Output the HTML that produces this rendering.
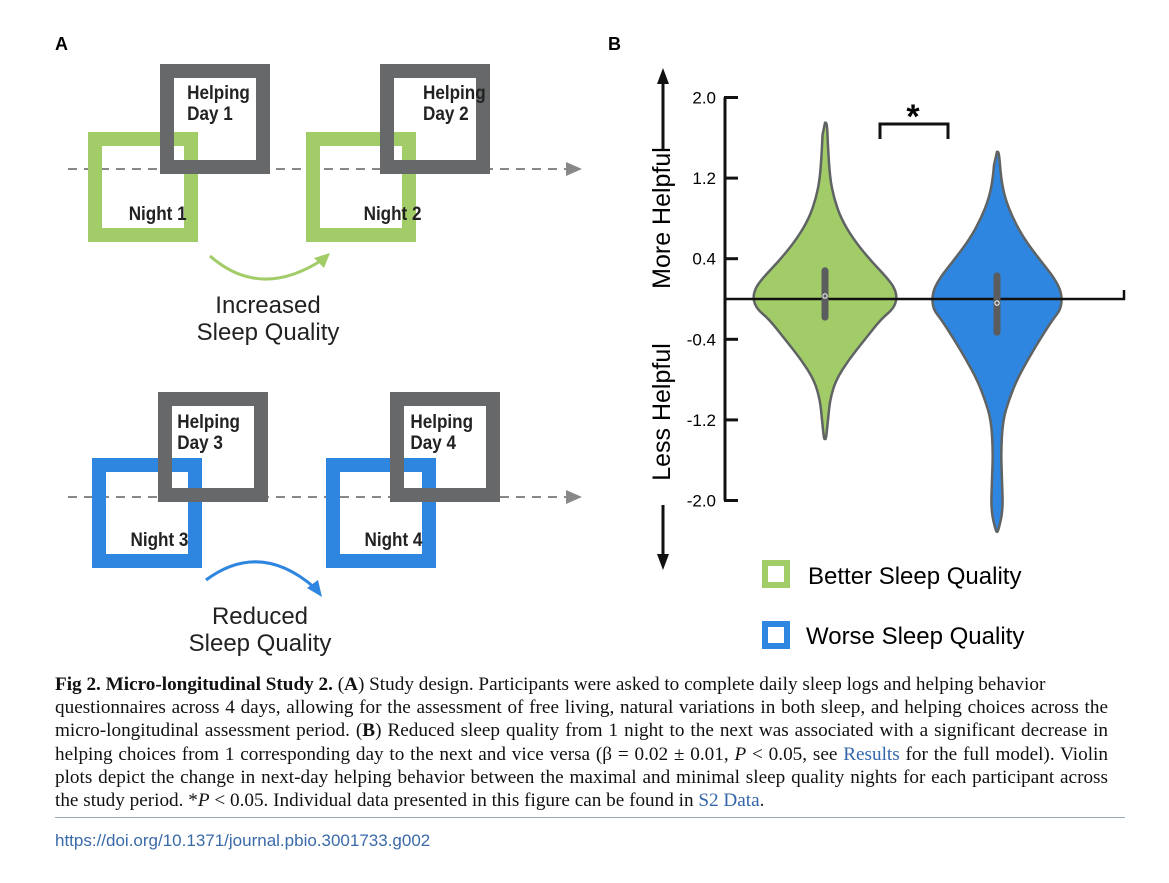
<!DOCTYPE html>
<html><head><meta charset="utf-8"><style>
html,body{margin:0;padding:0;background:#fff;}
body{width:1169px;height:883px;position:relative;overflow:hidden;font-family:"Liberation Sans",sans-serif;}
#cap{position:absolute;left:55px;top:673px;width:1053px;font-family:"Liberation Serif",serif;font-size:19.2px;line-height:23.2px;color:#111;}
#cap div{white-space:nowrap;text-align:justify;text-align-last:justify;}
#cap div.last{text-align-last:left;}
#cap a{color:#3366aa;text-decoration:none;}
#doi{position:absolute;left:55px;top:831px;font-size:17px;color:#3a6aa8;}
#rule{position:absolute;left:55px;top:817px;width:1070px;height:1px;background:#9ab;}
</style></head><body>
<svg width="1169" height="670" style="position:absolute;left:0;top:0">
<g font-family="Liberation Sans, sans-serif">
<text x="55" y="50" font-size="18" font-weight="bold">A</text>
<g>
<line x1="68" y1="169" x2="572" y2="169" stroke="#888" stroke-width="2" stroke-dasharray="9,7"/>
<polygon points="566,162 582,169 566,176" fill="#888"/>
<rect x="95" y="139" width="96" height="96" fill="none" stroke="#a2cc68" stroke-width="14"/>
<rect x="167" y="71" width="96" height="96" fill="none" stroke="#676869" stroke-width="14"/>
<rect x="313" y="139" width="96" height="96" fill="none" stroke="#a2cc68" stroke-width="14"/>
<rect x="387" y="71" width="96" height="96" fill="none" stroke="#676869" stroke-width="14"/>
<g font-weight="bold" font-size="19" fill="#222" transform="scale(0.9,1)">
<text x="208" y="99">Helping</text><text x="208" y="120">Day 1</text>
<text x="470" y="99">Helping</text><text x="470" y="120">Day 2</text>
<text x="143" y="220">Night 1</text><text x="404" y="220">Night 2</text>
</g>
<path d="M210,256 Q260,300 322,260" fill="none" stroke="#a2cc68" stroke-width="3"/>
<polygon points="330,253 314,258 324,268" fill="#a2cc68"/>
<text x="268" y="313" font-size="24" text-anchor="middle" fill="#222">Increased</text>
<text x="268" y="340" font-size="24" text-anchor="middle" fill="#222">Sleep Quality</text>
</g>
<g>
<line x1="68" y1="497" x2="572" y2="497" stroke="#888" stroke-width="2" stroke-dasharray="9,7"/>
<polygon points="566,490 582,497 566,504" fill="#888"/>
<rect x="99" y="465" width="96" height="96" fill="none" stroke="#2f86e0" stroke-width="14"/>
<rect x="165" y="399" width="96" height="96" fill="none" stroke="#676869" stroke-width="14"/>
<rect x="333" y="465" width="96" height="96" fill="none" stroke="#2f86e0" stroke-width="14"/>
<rect x="397" y="399" width="96" height="96" fill="none" stroke="#676869" stroke-width="14"/>
<g font-weight="bold" font-size="19" fill="#222" transform="scale(0.9,1)">
<text x="197" y="428">Helping</text><text x="197" y="449">Day 3</text>
<text x="456" y="428">Helping</text><text x="456" y="449">Day 4</text>
<text x="145" y="546">Night 3</text><text x="405" y="546">Night 4</text>
</g>
<path d="M206,580 Q260,540 315,588" fill="none" stroke="#2f86e0" stroke-width="3"/>
<polygon points="322,597 307,588 318,580" fill="#2f86e0"/>
<text x="260" y="624" font-size="24" text-anchor="middle" fill="#222">Reduced</text>
<text x="260" y="651" font-size="24" text-anchor="middle" fill="#222">Sleep Quality</text>
</g>
</g>
<g id="pb" font-family="Liberation Sans, sans-serif">
<text x="608" y="50" font-size="18" font-weight="bold">B</text>
<text transform="translate(670,218) rotate(-90)" font-size="25" text-anchor="middle">More Helpful</text>
<text transform="translate(670,412) rotate(-90)" font-size="25" text-anchor="middle">Less Helpful</text>
<line x1="663" y1="150" x2="663" y2="80" stroke="#111" stroke-width="3"/><polygon points="657,84 663,68 669,84" fill="#111"/>
<line x1="663" y1="505" x2="663" y2="558" stroke="#111" stroke-width="3"/><polygon points="657,554 663,570 669,554" fill="#111"/>
<g id="axis"></g><g id="violins"></g>
<path d="M880,139 V124 H948 V139" fill="none" stroke="#111" stroke-width="3"/>
<text x="913" y="128" font-size="34" font-weight="bold" text-anchor="middle">*</text>
<g>
<rect x="765" y="563" width="22" height="22" fill="#fff" stroke="#a2cc68" stroke-width="6"/>
<text x="808" y="584" font-size="24">Better Sleep Quality</text>
<rect x="765" y="624" width="22" height="22" fill="#fff" stroke="#2f86e0" stroke-width="6"/>
<text x="806" y="644" font-size="24">Worse Sleep Quality</text>
</g>
</g>
</svg>
<div id="cap">
<div class="last"><b>Fig 2. Micro-longitudinal Study 2.</b> (<b>A</b>) Study design. Participants were asked to complete daily sleep logs and helping behavior</div>
<div>questionnaires across 4 days, allowing for the assessment of free living, natural variations in both sleep, and helping choices across the</div>
<div>micro-longitudinal assessment period. (<b>B</b>) Reduced sleep quality from 1 night to the next was associated with a significant decrease in</div>
<div>helping choices from 1 corresponding day to the next and vice versa (β = 0.02 ± 0.01, <i>P</i> &lt; 0.05, see <a>Results</a> for the full model). Violin</div>
<div>plots depict the change in next-day helping behavior between the maximal and minimal sleep quality nights for each participant across</div>
<div class="last">the study period. *<i>P</i> &lt; 0.05. Individual data presented in this figure can be found in <a>S2 Data</a>.</div>
</div>
<div id="rule"></div>
<div id="doi">https://doi.org/10.1371/journal.pbio.3001733.g002</div>
<script>
const yTicks=[2.0,1.2,0.4,-0.4,-1.2,-2.0];
const tickLabels=["2.0","1.2","0.4","-0.4","-1.2","-2.0"];
const groups=["Better Sleep Quality","Worse Sleep Quality"];
const greenVals=[1.75,1.5,1.2,1.0,0.8,0.6,0.4,0.2,0.1,0,-0.1,-0.2,-0.4,-0.6,-0.8,-1.0,-1.2,-1.39];
const greenDens=[2,3,5,9,16,28,44,63,70,72,68,56,40,24,11,5,3,1];
const blueVals=[1.46,1.2,1.0,0.8,0.6,0.4,0.2,0.05,-0.1,-0.2,-0.4,-0.6,-0.8,-1.0,-1.2,-1.5,-1.8,-2.1,-2.31];
const blueDens=[2,4,8,16,27,42,58,65,64,56,43,31,20,12,6,4,5,6,1];
const q1=[-0.18,-0.33], q3=[0.28,0.23], medians=[0.03,-0.04];
const NS='http://www.w3.org/2000/svg';
const y=v=>299-v*100.75;
const x=i=>825+i*172;
const ax=document.getElementById('axis');
function mk(tag,at,par){const e=document.createElementNS(NS,tag);for(const k in at)e.setAttribute(k,at[k]);par.appendChild(e);return e;}
const yl=mk('line',{x1:725,x2:725,y1:y(2.0),y2:y(-2.0),stroke:'#111','stroke-width':3},ax);


yTicks.forEach((t,i)=>{
 mk('line',{x1:724,x2:738,y1:y(t),y2:y(t),stroke:'#111','stroke-width':3},ax);
 const tx=mk('text',{x:716,y:y(t)+6,'font-size':17,'text-anchor':'end'},ax);
 tx.textContent=tickLabels[i];
 
 
});
const vg=document.getElementById('violins');
const series=[[greenVals,greenDens,'#a2cc68'],[blueVals,blueDens,'#2f86e0']];
series.forEach((s,i)=>{
 const [vals,dens,col]=s;const cx=x(i);
 const R=vals.map((v,k)=>[cx+dens[k],y(v)]);const L=vals.map((v,k)=>[cx-dens[k],y(v)]).reverse();
 const pts=[[cx,y(vals[0])],...R,[cx,y(vals[vals.length-1])],...L];
 let d='M'+pts[0].join(',');
 for(let k=1;k<pts.length;k++){const p=pts[k-1],q=pts[k];d+=' Q'+p.join(',')+' '+((p[0]+q[0])/2)+','+((p[1]+q[1])/2);}
 d+=' Z';
 const p=mk('path',{d:d,fill:col,stroke:'#5f6363','stroke-width':2.5},vg);
 
 
});
const zl=mk('path',{d:'M725,'+y(0)+' H1124 V'+(y(0)-9),fill:'none',stroke:'#111','stroke-width':2.5},vg);


series.forEach((s,i)=>{
 const b=mk('line',{x1:x(i),x2:x(i),y1:y(q3[i]),y2:y(q1[i]),stroke:'#5a5c5e','stroke-width':7,'stroke-linecap':'round'},vg);
 
 
 const m=mk('circle',{cx:x(i),cy:y(medians[i]),r:2.2,fill:'#5a5c5e',stroke:'#fff','stroke-width':1},vg);
 
 
});
</script>
</body></html>
